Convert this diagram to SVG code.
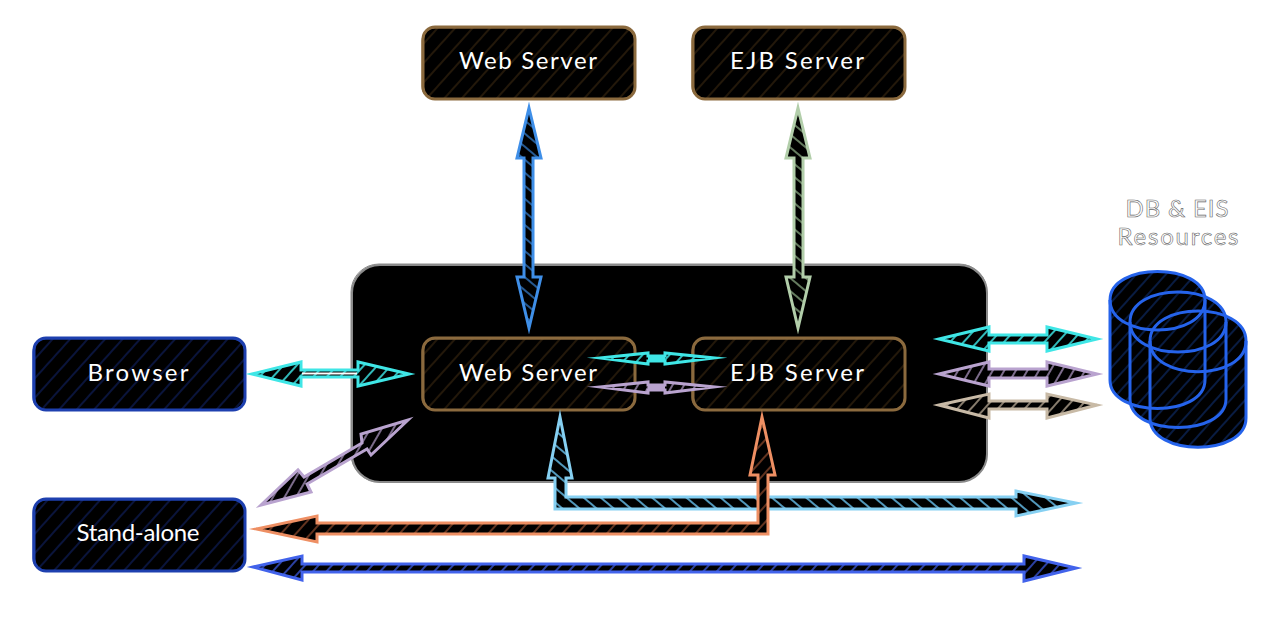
<svg xmlns="http://www.w3.org/2000/svg" width="1276" height="634" viewBox="0 0 1276 634">
<style>
text{font-family:"Lato","Open Sans",sans-serif;font-size:24px;fill:#fff;text-anchor:middle}
.label{font-weight:400}
.res{font-size:24px;fill:#fff;stroke:#666;stroke-width:.6;font-weight:400}
.box{stroke-width:3}
.sk{fill:none;stroke-width:1.2}
.brown{stroke:#8b6a3e;fill:url(#hBrown)}
.navy{stroke:#1e40af;fill:url(#hNavy)}
.cyl{stroke:none;fill:url(#hCyl)}
.cl{stroke:#2563eb;stroke-width:3;fill:none}
.ar{stroke-width:3;stroke-linejoin:miter;stroke-miterlimit:12}
</style>
<defs>
<pattern id="hBrown" width="13" height="13" patternUnits="userSpaceOnUse" patternTransform="rotate(42)"><rect width="13" height="13" fill="#000"/><line x1="6" y1="0" x2="6" y2="13" stroke="#2e200d" stroke-width="1.5"/></pattern>
<pattern id="hNavy" width="13" height="13" patternUnits="userSpaceOnUse" patternTransform="rotate(42)"><rect width="13" height="13" fill="#000"/><line x1="6" y1="0" x2="6" y2="13" stroke="#0d1a4e" stroke-width="1.5"/></pattern>
<pattern id="hCyl" width="11" height="11" patternUnits="userSpaceOnUse" patternTransform="rotate(42)"><rect width="11" height="11" fill="#000"/><line x1="5" y1="0" x2="5" y2="11" stroke="#0b2558" stroke-width="1.5"/></pattern>
<pattern id="hCyan" width="10" height="10" patternUnits="userSpaceOnUse" patternTransform="rotate(42)"><rect width="10" height="10" fill="#000"/><line x1="5" y1="0" x2="5" y2="10" stroke="#3de8e8" stroke-width="1.6"/></pattern>
<pattern id="hPurple" width="10" height="10" patternUnits="userSpaceOnUse" patternTransform="rotate(30)"><rect width="10" height="10" fill="#000"/><line x1="5" y1="0" x2="5" y2="10" stroke="#9a86ad" stroke-width="1.6"/></pattern>
<pattern id="hTan" width="10" height="10" patternUnits="userSpaceOnUse" patternTransform="rotate(42)"><rect width="10" height="10" fill="#000"/><line x1="5" y1="0" x2="5" y2="10" stroke="#a89a88" stroke-width="1.6"/></pattern>
<pattern id="hBlue" width="10" height="10" patternUnits="userSpaceOnUse" patternTransform="rotate(-50)"><rect width="10" height="10" fill="#000"/><line x1="5" y1="0" x2="5" y2="10" stroke="#2f6fb5" stroke-width="1.6"/></pattern>
<pattern id="hGreen" width="10" height="10" patternUnits="userSpaceOnUse" patternTransform="rotate(-50)"><rect width="10" height="10" fill="#000"/><line x1="5" y1="0" x2="5" y2="10" stroke="#7e9a77" stroke-width="1.6"/></pattern>
<pattern id="hSky" width="11" height="11" patternUnits="userSpaceOnUse" patternTransform="rotate(-50)"><rect width="11" height="11" fill="#000"/><line x1="5" y1="0" x2="5" y2="11" stroke="#5ba9d0" stroke-width="1.8"/></pattern>
<pattern id="hOrange" width="11" height="11" patternUnits="userSpaceOnUse" patternTransform="rotate(42)"><rect width="11" height="11" fill="#000"/><line x1="5" y1="0" x2="5" y2="11" stroke="#7a4026" stroke-width="1.6"/></pattern>
<pattern id="hIndigo" width="10" height="10" patternUnits="userSpaceOnUse" patternTransform="rotate(42)"><rect width="10" height="10" fill="#000"/><line x1="5" y1="0" x2="5" y2="10" stroke="#3650c8" stroke-width="1.6"/></pattern>
</defs>

<g id="container">
<rect x="352" y="265" width="635" height="217" rx="28" fill="#000" stroke="#8a8a8a" stroke-width="2"/>
<rect x="351" y="264" width="636" height="218" rx="28" fill="none" stroke="#8a8a8a" stroke-width="1"/>
</g>

<g id="web-server-top">
<rect class="brown box" x="423" y="27" width="212" height="72" rx="12"/>
<rect class="sk" stroke="#8b6a3e" x="422" y="28" width="213" height="71" rx="13"/>
<text class="label" x="528" y="69" textLength="138" lengthAdjust="spacing">Web Server</text>
</g>
<g id="ejb-server-top">
<rect class="brown box" x="693" y="27" width="212" height="72" rx="12"/>
<rect class="sk" stroke="#8b6a3e" x="692" y="28" width="213" height="71" rx="13"/>
<text class="label" x="797" y="69" textLength="134" lengthAdjust="spacing">EJB Server</text>
</g>
<g id="web-server">
<rect class="brown box" x="423" y="338" width="212" height="72" rx="12"/>
<rect class="sk" stroke="#8b6a3e" x="422" y="339" width="213" height="71" rx="13"/>
<text class="label" x="528" y="381" textLength="138" lengthAdjust="spacing">Web Server</text>
</g>
<g id="ejb-server">
<rect class="brown box" x="693" y="338" width="212" height="72" rx="12"/>
<rect class="sk" stroke="#8b6a3e" x="692" y="339" width="213" height="71" rx="13"/>
<text class="label" x="797" y="381" textLength="134" lengthAdjust="spacing">EJB Server</text>
</g>
<g id="browser">
<rect class="navy box" x="34" y="338" width="211" height="72" rx="12"/>
<rect class="sk" stroke="#1e40af" x="33" y="339" width="212" height="71" rx="13"/>
<text class="label" x="138" y="381" textLength="101" lengthAdjust="spacing">Browser</text>
</g>
<g id="stand-alone">
<rect class="navy box" x="34" y="499" width="211" height="72" rx="12"/>
<rect class="sk" stroke="#1e40af" x="33" y="500" width="212" height="71" rx="13"/>
<text class="label" x="138" y="541" textLength="123" lengthAdjust="spacing">Stand-alone</text>
</g>

<g id="db-resources">
<path class="cyl" d="M1110 300C1110 262 1205 262 1205 300V380C1205 418 1110 418 1110 380Z"/>
<path class="cyl" d="M1130 322C1130 282 1226 282 1226 322V399C1226 437 1130 437 1130 399Z"/>
<path class="cyl" d="M1150 341C1150 301 1246 301 1246 341V418C1246 457 1150 457 1150 418Z"/>
<path class="cl" d="M1110 300C1110 262 1205 262 1205 300V380C1205 418 1110 418 1110 380Z"/>
<path class="cl" d="M1110 300C1110 340 1205 340 1205 300"/>
<path class="cl" d="M1130 322C1130 282 1226 282 1226 322V399C1226 437 1130 437 1130 399Z"/>
<path class="cl" d="M1130 322C1130 362 1226 362 1226 322"/>
<path class="cl" d="M1150 341C1150 301 1246 301 1246 341V418C1246 457 1150 457 1150 418Z"/>
<path class="cl" d="M1150 341C1150 382 1246 382 1246 341"/>
<text class="res" x="1177" y="217" textLength="103" lengthAdjust="spacing">DB &amp; EIS</text>
<text class="res" x="1178" y="245" textLength="121" lengthAdjust="spacing">Resources</text>
</g>

<g id="connectors">
<polygon class="ar" fill="url(#hBlue)" stroke="#3f8fe8" points="529,108 541,158 533,158 533,277 541,277 529,328 517,277 524,277 524,158 517,158"/>
<polygon class="ar" fill="url(#hGreen)" stroke="#b2ceaa" points="798,108 810,158 803,158 803,277 810,277 798,328 786,277 794,277 794,158 786,158"/>
<polygon class="ar" fill="url(#hCyan)" stroke="#3fe6e6" points="252,374 301,362 301,370 358,370 358,362 409,374 358,386 358,377 301,377 301,386"/>
<line x1="302" y1="373.500" x2="357" y2="373.500" stroke="#fff" stroke-width="2"/>
<polygon class="ar" fill="url(#hPurple)" stroke="#b9a3cf" points="261,505 298,470 304,477 362,443 361,434 408,420 371,455 367,449 307,484 311,492"/>
<polygon class="ar" fill="url(#hCyan)" stroke="#3fe6e6" points="600,358 648,353 648,356 665,356 665,353 714,358 665,364 665,361 648,361 648,364"/>
<line x1="648" y1="358.500" x2="665" y2="358.500" stroke="#3fe6e6" stroke-width="5"/>
<polygon class="ar" fill="url(#hPurple)" stroke="#b9a3cf" points="600,387 648,382 648,385 665,385 665,382 714,387 665,393 665,390 648,390 648,393"/>
<line x1="648" y1="387.500" x2="665" y2="387.500" stroke="#b9a3cf" stroke-width="5"/>
<polygon class="ar" fill="url(#hCyan)" stroke="#3fe6e6" points="939,339 989,327 989,335 1047,335 1047,327 1097,339 1047,351 1047,343 989,343 989,351"/>
<polygon class="ar" fill="url(#hPurple)" stroke="#b9a3cf" points="939,374 989,362 989,369 1047,369 1047,362 1097,374 1047,386 1047,378 989,378 989,386"/>
<polygon class="ar" fill="url(#hTan)" stroke="#c8baa6" points="939,405 989,394 989,401 1047,401 1047,394 1097,405 1047,418 1047,409 989,409 989,418"/>
<polygon class="ar" fill="url(#hSky)" stroke="#86d0f2" points="560,417 572,478 566,478 566,497 1016,497 1016,491 1076,503 1016,516 1016,509 555,509 555,478 548,478"/>
<polygon class="ar" fill="url(#hOrange)" stroke="#ee8f63" points="762,417 775,475 768,475 768,534 317,534 317,542 256,529 317,516 317,523 758,523 758,475 750,475"/>
<polygon class="ar" fill="url(#hIndigo)" stroke="#4263eb" points="253,567 302,556 302,564 1024,564 1024,556 1076,568 1024,581 1024,572 302,572 302,580"/>
</g>
</svg>
